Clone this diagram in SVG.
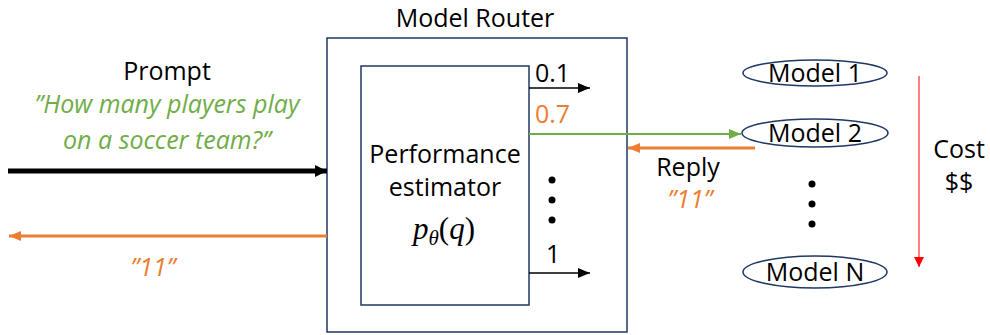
<svg xmlns="http://www.w3.org/2000/svg" width="990" height="335" viewBox="0 0 990 335">
<style>
text{font-family:"Open Sans","Liberation Sans",sans-serif;font-size:25px;fill:#000}
.c{text-anchor:middle}
.g{fill:#70AD47;font-style:italic}
.o{fill:#ED7D31}
.oi{fill:#ED7D31;font-style:italic}
.box{fill:#fff;stroke:#1F3864;stroke-width:1.5}
.m{fill:#fff;stroke:#1F3864;stroke-width:1.5}
text.math{font-family:"Liberation Serif","DejaVu Serif",serif;font-size:31px}
.it{font-style:italic}
.sub{font-size:21px}
</style>
<defs>
<marker id="hk" markerUnits="userSpaceOnUse" markerWidth="14" markerHeight="14" refX="12" refY="7" orient="auto"><path d="M0,1 L12,7 L0,13 Z" fill="#000"/></marker>
<marker id="hks" markerUnits="userSpaceOnUse" markerWidth="14" markerHeight="12" refX="12" refY="6" orient="auto"><path d="M0,1 L12,6 L0,11 Z" fill="#000"/></marker>
<marker id="ho" markerUnits="userSpaceOnUse" markerWidth="14" markerHeight="12" refX="12" refY="6" orient="auto"><path d="M0,1 L12,6 L0,11 Z" fill="#ED7D31"/></marker>
<marker id="hg" markerUnits="userSpaceOnUse" markerWidth="14" markerHeight="12" refX="12" refY="6" orient="auto"><path d="M0,1 L12,6 L0,11 Z" fill="#70AD47"/></marker>
<marker id="hr" markerUnits="userSpaceOnUse" markerWidth="12" markerHeight="12" refX="10" refY="6" orient="auto"><path d="M0,1 L10,6 L0,11 Z" fill="#FF0000"/></marker>
</defs>

<g id="router">
<rect class="box" x="327" y="38" width="300" height="294"/>
<text class="c" x="475" y="27">Model Router</text>
</g>
<g id="estimator">
<rect class="box" x="361" y="66" width="168" height="239"/>
<text class="c" x="445" y="163">Performance</text>
<text class="c" x="445" y="196">estimator</text>
<text class="math" x="413" y="239"><tspan class="it">p</tspan><tspan class="it sub" dy="6">θ</tspan><tspan dy="-6">(</tspan><tspan class="it">q</tspan><tspan>)</tspan></text>
</g>
<g id="prompt">
<text class="c" x="167" y="80">Prompt</text>
<text class="c g" x="167" y="113">”How many players play</text>
<text class="c g" x="167" y="149">on a soccer team?”</text>
</g>
<g id="answer">
<text class="c oi" x="153" y="276">”11”</text>
</g>
<g id="model1">
<ellipse class="m" cx="815" cy="73" rx="72" ry="13"/>
<text class="c" x="815" y="82">Model 1</text>
</g>
<g id="model2">
<ellipse class="m" cx="815" cy="133" rx="73" ry="14"/>
<text class="c" x="815" y="142">Model 2</text>
</g>
<g id="modelN">
<ellipse class="m" cx="815" cy="272" rx="72" ry="16"/>
<text class="c" x="815" y="281">Model N</text>
</g>
<g id="cost">
<text class="c" x="959" y="158">Cost</text>
<text class="c" x="959" y="191">$$</text>
</g>
<g id="labels">
<text x="535" y="82">0.1</text>
<text class="o" x="535" y="123">0.7</text>
<text x="546" y="263">1</text>
<text class="c" x="688" y="176">Reply</text>
<text class="c oi" x="690" y="208">”11”</text>
</g>
<g id="dots">
<circle cx="552" cy="180" r="3.5"/>
<circle cx="552" cy="200" r="3.5"/>
<circle cx="552" cy="220" r="3.5"/>
<circle cx="812" cy="184" r="3.5"/>
<circle cx="812" cy="204" r="3.5"/>
<circle cx="812" cy="224" r="3.5"/>
</g>
<g id="connectors" fill="none">
<line x1="8" y1="171" x2="327" y2="171" stroke="#000" stroke-width="5" marker-end="url(#hk)"/>
<line x1="327" y1="236" x2="9" y2="236" stroke="#ED7D31" stroke-width="3" marker-end="url(#ho)"/>
<line x1="529" y1="88" x2="590" y2="88" stroke="#000" stroke-width="1.5" marker-end="url(#hks)"/>
<line x1="529" y1="273" x2="590" y2="273" stroke="#000" stroke-width="1.5" marker-end="url(#hks)"/>
<line x1="529" y1="134" x2="741" y2="134" stroke="#70AD47" stroke-width="2" marker-end="url(#hg)"/>
<line x1="755" y1="148" x2="628" y2="148" stroke="#ED7D31" stroke-width="3" marker-end="url(#ho)"/>
<line x1="919" y1="76" x2="919" y2="267" stroke="#FF0000" stroke-width="1" marker-end="url(#hr)"/>
</g>
</svg>
